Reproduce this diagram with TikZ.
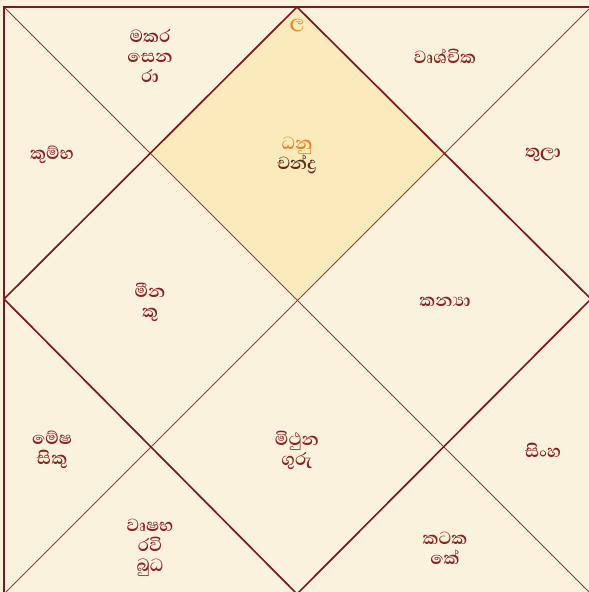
\documentclass[tikz,border=0pt]{standalone}
\usepackage{fontspec}
\newfontfamily\sinhfont[Script=Sinhala]{Abhaya Libre}
\definecolor{bg}{HTML}{FBF2DE}
\definecolor{hl}{HTML}{FBEABB}
\definecolor{ln}{HTML}{7A1C1C}
\definecolor{tx}{HTML}{8A2222}
\definecolor{og}{HTML}{E8841E}
\definecolor{br}{HTML}{5A2A1A}
\begin{document}
\begin{tikzpicture}[x=1pt,y=-1pt,
  lbl/.style={font=\sinhfont\bfseries\fontsize{22.5}{20}\selectfont, text=tx, align=center, inner sep=0pt},
  thin/.style={draw=ln!85!white, line width=0.9pt},
  thick/.style={draw=ln, line width=1.7pt}]
\useasboundingbox (0,0) rectangle (589,592);
\fill[bg] (0,0) rectangle (589,592);
\coordinate (TL) at (4,7);
\coordinate (TR) at (591,7);
\coordinate (BL) at (4,594);
\coordinate (BR) at (591,594);
\coordinate (T) at (297,7);
\coordinate (L) at (4,299);
\coordinate (R) at (591,299);
\coordinate (B) at (297,594);
\coordinate (C) at (297,299);
\fill[hl] (T) -- (446,153) -- (C) -- (150,153) -- cycle;
\draw[thin] (TL) -- (BR);
\draw[thin] (TR) -- (BL);
\draw[thick] (T) -- (R) -- (B) -- (L) -- cycle;
\draw[draw=ln, line width=1.8pt] (TL) rectangle (BR);
% houses
\node[lbl] (h12) at (150,56) {මකර\\සෙන\\රා};
\node[lbl, text=og] (lg) at (297,26) {ල};
\node[lbl] (h1) at (297,155) {\textcolor{og}{ධනු}\\\textcolor{br}{චන්ද්‍ර}};
\node[lbl] (h2) at (445,56) {වෘශ්චික};
\node[lbl] (h11) at (52,155) {කුම්භ};
\node[lbl] (h3) at (543,155) {තුලා};
\node[lbl] (h10) at (150,302) {මීන\\කු};
\node[lbl] (h4) at (445,302) {කන්‍යා};
\node[lbl] (h9) at (52,450) {මේෂ\\සිකු};
\node[lbl] (h7) at (297,450) {මිථුන\\ගුරු};
\node[lbl] (h5) at (543,450) {සිංහ};
\node[lbl] (h8) at (150,548) {වෘෂභ\\රවි\\බුධ};
\node[lbl] (h6) at (445,548) {කටක\\කේ};
\end{tikzpicture}
\end{document}
